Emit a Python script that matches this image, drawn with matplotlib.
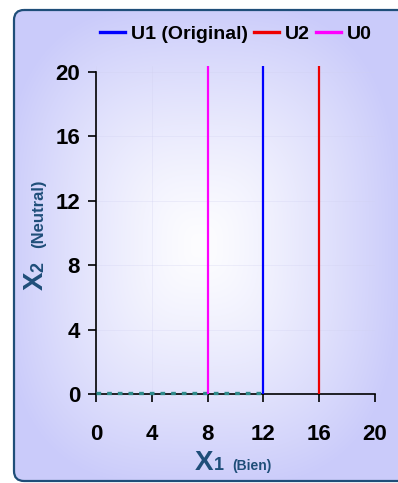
import matplotlib
matplotlib.use('Agg')
import matplotlib.pyplot as plt
import matplotlib.transforms as mtransforms
import numpy as np
from matplotlib.patches import FancyBboxPatch

plt.rcParams['font.family'] = ['Liberation Sans', 'DejaVu Sans']
plt.rcParams['font.weight'] = 'bold'

# vertical indifference lines (x1 value, y range)
u1_x = [12, 12]
u2_x = [16, 16]
u0_x = [8, 8]
line_y = [0, 20.3]
# dashed budget segment along the x1 axis
budget_x = [0, 12]
budget_y = [0, 0]

ticks = [0, 4, 8, 12, 16, 20]

W, H = 398, 483
fig = plt.figure(figsize=(W / 100, H / 100), dpi=100)

# panel background with soft rectangular radial gradient
bg = fig.add_axes([0, 0, 1, 1])
bg.set_xlim(0, W)
bg.set_ylim(H, 0)
bg.axis('off')
yy, xx = np.mgrid[0:H, 0:W]
p = 3.0
d = (np.abs((xx - 200) / 200.0) ** p + np.abs((yy - 245) / 245.0) ** p) ** (1 / p)
t = np.clip(d, 0, 1) ** 1.3
edge = np.array([202, 203, 250]) / 255.0
center = np.array([253, 253, 255]) / 255.0
img = center[None, None, :] * (1 - t[..., None]) + edge[None, None, :] * t[..., None]
im = bg.imshow(img, extent=(0, W, H, 0), interpolation='bilinear', zorder=0)
panel = FancyBboxPatch((14, 10), 420, 471, boxstyle='round,pad=0,rounding_size=10',
                       fc='none', ec='#1f4e79', lw=1.6, zorder=2)
bg.add_patch(panel)
im.set_clip_path(panel)

ax = fig.add_axes([96 / W, 1 - 394 / H, 279 / W, (394 - 65.6) / H])
ax.set_facecolor('none')
ax.set_xlim(0, 20)
ax.set_ylim(0, 20.4)

# dashes sit just on top of the axis line
lift = mtransforms.ScaledTranslation(0, 0.6 / 72, fig.dpi_scale_trans)
ax.plot(budget_x, budget_y, color='#2e8b8b', lw=2.4, dashes=(1.4, 1.8), zorder=3,
        clip_on=False, transform=ax.transData + lift)
ax.plot(u1_x, line_y, color='#0000ff', lw=1.6, label='U1 (Original)', zorder=4)
ax.plot(u2_x, line_y, color='#ee0000', lw=1.6, label='U2', zorder=4)
ax.plot(u0_x, line_y, color='#ff00ff', lw=1.6, label='U0', zorder=4)

ax.set_xticks(ticks)
ax.set_yticks(ticks)
ax.grid(True, color='#d0d0f0', lw=0.6, alpha=0.35)
for s in ['top', 'right']:
    ax.spines[s].set_visible(False)
ax.spines['left'].set_bounds(0, 20)
ax.spines['left'].set_linewidth(1.2)
ax.spines['bottom'].set_linewidth(1.2)
ax.tick_params(axis='both', length=5.5, width=1.2, labelsize=16, colors='black')
ax.tick_params(axis='x', pad=16)
ax.tick_params(axis='y', pad=6)
for lab in ax.get_xticklabels() + ax.get_yticklabels():
    lab.set_fontweight('bold')

leg = fig.legend(loc='center', bbox_to_anchor=(236 / W, 1 - 34 / H), ncol=3, frameon=False,
                 handlelength=1.3, handletextpad=0.3, columnspacing=0.3,
                 borderpad=0, prop={'weight': 'bold', 'size': 14})
for h in leg.legend_handles:
    h.set_linewidth(2.4)

navy = '#1f4e79'
# x axis label
fig.text(195 / W, 1 - 470 / H, 'X', fontsize=20, color=navy, fontweight='bold', ha='left', va='baseline')
fig.text(214 / W, 1 - 470 / H, '1', fontsize=13, color=navy, fontweight='bold', ha='left', va='baseline')
fig.text(232 / W, 1 - 470 / H, '(Bien)', fontsize=10, color=navy, fontweight='bold', ha='left', va='baseline')
# y axis label
fig.text(43 / W, 1 - 290 / H, 'X', fontsize=20, color=navy, fontweight='bold',
         rotation=90, ha='left', va='baseline', rotation_mode='anchor')
fig.text(43 / W, 1 - 272 / H, '2', fontsize=13, color=navy, fontweight='bold',
         rotation=90, ha='left', va='baseline', rotation_mode='anchor')
fig.text(43 / W, 1 - 248 / H, '(Neutral)', fontsize=12, color=navy, fontweight='bold',
         rotation=90, ha='left', va='baseline', rotation_mode='anchor')

fig.savefig('out.png', dpi=100)
